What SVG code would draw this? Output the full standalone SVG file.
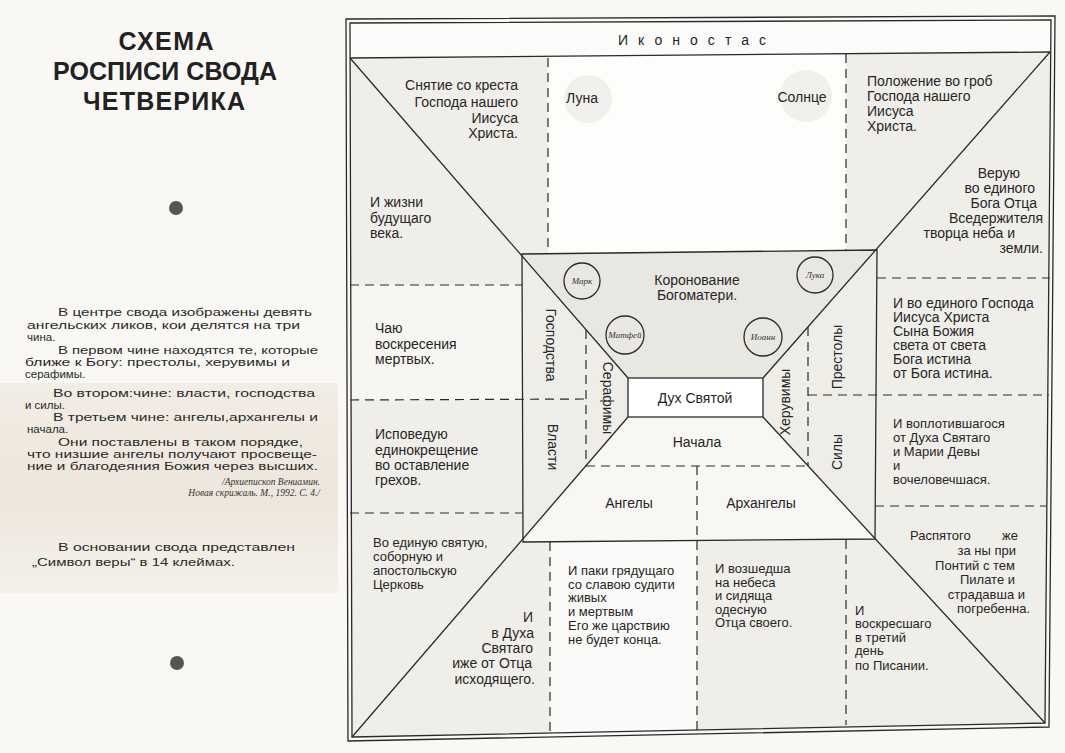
<svg xmlns="http://www.w3.org/2000/svg" width="1065" height="753" viewBox="0 0 1065 753">
<style>
 .t{font-family:"Liberation Sans",Arial,sans-serif;font-size:14px;fill:#262626}
 .s{font-size:13px}
 .p{font-family:"Liberation Sans",Arial,sans-serif;font-size:11.5px;fill:#2a2a2a}
 .ttl{font-family:"Liberation Sans",Arial,sans-serif;font-size:25px;font-weight:bold;fill:#222;text-anchor:middle}
 .h{font-family:"Liberation Serif","Times New Roman",serif;font-style:italic;font-size:9px;fill:#333;text-anchor:middle}
 .q{font-family:"Liberation Serif","Times New Roman",serif;font-style:italic;font-size:9.5px;fill:#333;text-anchor:end}
 .e{text-anchor:end}
 .m{text-anchor:middle}
 .ln{stroke:#2a2a2a;stroke-width:1.3;fill:none}
 .ds{stroke:#2a2a2a;stroke-width:1.2;fill:none;stroke-dasharray:9 6}
 .c{fill:none;stroke:#2a2a2a;stroke-width:1.3}
</style>
<defs>
 <linearGradient id="band" x1="0" y1="0" x2="0" y2="1">
  <stop offset="0" stop-color="#f2ede5"/>
  <stop offset="0.5" stop-color="#ede6dc"/>
  <stop offset="1" stop-color="#f4f0ea"/>
 </linearGradient>
</defs>
<rect x="0" y="0" width="1065" height="753" fill="#f9f8f5"/>
<rect x="0" y="383" width="338" height="210" fill="url(#band)"/>

<g id="title">
 <text class="ttl" x="166" y="50" textLength="95">СХЕМА</text>
 <text class="ttl" x="165" y="80" textLength="224">РОСПИСИ СВОДА</text>
 <text class="ttl" x="164" y="110" textLength="162">ЧЕТВЕРИКА</text>
</g>
<g id="dots">
 <circle cx="176" cy="208" r="7" fill="#555"/>
 <circle cx="177" cy="663" r="7" fill="#555"/>
</g>
<g id="description">
 <text class="p" x="58" y="316" textLength="254" lengthAdjust="spacingAndGlyphs">В центре свода изображены девять</text>
 <text class="p" x="27" y="329" textLength="273" lengthAdjust="spacingAndGlyphs">ангельских ликов, кои делятся на три</text>
 <text class="p" x="27" y="341">чина.</text>
 <text class="p" x="58" y="354" textLength="260" lengthAdjust="spacingAndGlyphs">В первом чине находятся те, которые</text>
 <text class="p" x="25" y="366" textLength="265" lengthAdjust="spacingAndGlyphs">ближе к Богу: престолы, херувимы и</text>
 <text class="p" x="25" y="378">серафимы.</text>
 <text class="p" x="53" y="397" textLength="262" lengthAdjust="spacingAndGlyphs">Во втором:чине: власти, господства</text>
 <text class="p" x="25" y="409">и силы.</text>
 <text class="p" x="53" y="421" textLength="265" lengthAdjust="spacingAndGlyphs">В третьем чине: ангелы,архангелы и</text>
 <text class="p" x="27" y="433">начала.</text>
 <text class="p" x="58" y="446" textLength="245" lengthAdjust="spacingAndGlyphs">Они поставлены в таком порядке,</text>
 <text class="p" x="27" y="458" textLength="290" lengthAdjust="spacingAndGlyphs">что низшие ангелы получают просвеще-</text>
 <text class="p" x="27" y="470" textLength="291" lengthAdjust="spacingAndGlyphs">ние и благодеяния Божия через высших.</text>
 <text class="q" x="320" y="485">/Архиепископ Вениамин.</text>
 <text class="q" x="320" y="496">Новая скрижаль. М., 1992. С. 4./</text>
 <text class="p" x="58" y="551" textLength="237" lengthAdjust="spacingAndGlyphs">В основании свода представлен</text>
 <text class="p" x="32" y="566" textLength="203" lengthAdjust="spacingAndGlyphs">„Символ веры“ в 14 клеймах.</text>
</g>

<g id="fills">
 <polygon points="350,23 1051,20 1045,723 352,737" fill="#f0eee9"/>
 <polygon points="350,23 1051,20 1050,52 350,58" fill="#fbfbf9"/>
 <polygon points="548,57 846,53 846,251 548,254" fill="#fdfdfc"/>
 <polygon points="522,254 877,250 763,378 628,378" fill="#e9e7e2"/>
 <polygon points="522,254 628,378 628,417 523,542" fill="#efede8"/>
 <polygon points="877,250 875,539 763,417 763,378" fill="#efede8"/>
 <polygon points="628,417 763,417 875,539 523,542" fill="#f8f7f4"/>
 <polygon points="350,285 522,285 522,400 350,400" fill="#f7f6f2"/>
 <polygon points="550,542 697,541 697,732 550,736" fill="#fafaf8"/>
 <rect x="628" y="378" width="135" height="39" fill="#ffffff"/>
</g>

<g id="connectors">
 <polygon class="ln" points="346,19 1055,16 1049,727 348,741"/>
 <polygon class="ln" points="350,23 1051,20 1045,723 352,737"/>
 <line class="ln" x1="350" y1="58" x2="1050" y2="52"/>
 <polygon class="ln" points="522,254 877,250 875,539 523,542"/>
 <rect class="ln" x="628" y="378" width="135" height="39"/>
 <line class="ln" x1="350" y1="58" x2="628" y2="378"/>
 <line class="ln" x1="1050" y1="52" x2="763" y2="378"/>
 <line class="ln" x1="352" y1="737" x2="628" y2="417"/>
 <line class="ln" x1="1045" y1="723" x2="763" y2="417"/>
 <line class="ds" x1="548" y1="58" x2="548" y2="254"/>
 <line class="ds" x1="846" y1="54" x2="846" y2="251"/>
 <line class="ds" x1="350" y1="285" x2="522" y2="285"/>
 <line class="ds" x1="350" y1="400" x2="586" y2="399"/>
 <line class="ds" x1="350" y1="513" x2="522" y2="513"/>
 <line class="ds" x1="877" y1="278" x2="1050" y2="278"/>
 <line class="ds" x1="808" y1="395" x2="1049" y2="395"/>
 <line class="ds" x1="875" y1="506" x2="1046" y2="506"/>
 <line class="ds" x1="586" y1="330" x2="586" y2="466"/>
 <line class="ds" x1="808" y1="327" x2="808" y2="466"/>
 <line class="ds" x1="586" y1="466" x2="808" y2="466"/>
 <line class="ds" x1="697" y1="466" x2="697" y2="732"/>
 <line class="ds" x1="550" y1="542" x2="550" y2="736"/>
 <line class="ds" x1="846" y1="540" x2="846" y2="725"/>
</g>

<g id="iconostas">
 <text class="t" x="618" y="45" textLength="148" lengthAdjust="spacing">Иконостас</text>
</g>

<g id="sky">
 <circle cx="588" cy="99" r="24" fill="#f2f0ec"/>
 <circle cx="806" cy="96" r="26" fill="#f2f0ec"/>
 <text class="t m" x="582" y="103">Луна</text>
 <text class="t m" x="802" y="102">Солнце</text>
</g>

<g id="cell-top-left">
 <text class="t e" x="518" y="90">Снятие со креста</text>
 <text class="t e" x="518" y="107">Господа нашего</text>
 <text class="t e" x="518" y="123">Иисуса</text>
 <text class="t e" x="518" y="138">Христа.</text>
 <text class="t" x="370" y="207">И жизни</text>
 <text class="t" x="370" y="223">будущаго</text>
 <text class="t" x="370" y="238">века.</text>
</g>

<g id="cell-top-right">
 <text class="t" x="867" y="86">Положение во гроб</text>
 <text class="t" x="867" y="101">Господа нашего</text>
 <text class="t" x="867" y="116">Иисуса</text>
 <text class="t" x="867" y="131">Христа.</text>
 <text class="t e" x="1020" y="178">Верую</text>
 <text class="t e" x="1035" y="193">во единого</text>
 <text class="t e" x="1037" y="208">Бога  Отца</text>
 <text class="t e" x="1043" y="223">Вседержителя</text>
 <text class="t e" x="1015" y="238">творца  неба  и</text>
 <text class="t e" x="1043" y="253">земли.</text>
</g>

<g id="cell-chayu">
 <text class="t" x="375" y="333">Чаю</text>
 <text class="t" x="375" y="349">воскресения</text>
 <text class="t" x="375" y="364">мертвых.</text>
</g>

<g id="cell-ispoveduyu">
 <text class="t" x="375" y="439">Исповедую</text>
 <text class="t" x="375" y="455">единокрещение</text>
 <text class="t" x="375" y="470">во оставление</text>
 <text class="t" x="375" y="485">грехов.</text>
</g>

<g id="cell-bottom-left">
 <text class="t s" x="373" y="547">Во единую святую,</text>
 <text class="t s" x="373" y="561">соборную и</text>
 <text class="t s" x="373" y="575">апостольскую</text>
 <text class="t s" x="373" y="589">Церковь</text>
 <text class="t e" x="533" y="622">И</text>
 <text class="t e" x="534" y="638">в Духа</text>
 <text class="t e" x="533" y="653">Святаго</text>
 <text class="t e" x="532" y="668">иже от Отца</text>
 <text class="t e" x="535" y="684">исходящего.</text>
</g>

<g id="cell-paki">
 <text class="t s" x="568" y="575">И паки грядущаго</text>
 <text class="t s" x="568" y="589">со славою судити</text>
 <text class="t s" x="568" y="602">живых</text>
 <text class="t s" x="568" y="616">и мертвым</text>
 <text class="t s" x="568" y="630">Его же царствию</text>
 <text class="t s" x="568" y="644">не будет конца.</text>
</g>

<g id="cell-vozshedsha">
 <text class="t s" x="715" y="573">И возшедша</text>
 <text class="t s" x="715" y="587">на небеса</text>
 <text class="t s" x="715" y="600">и сидяща</text>
 <text class="t s" x="715" y="614">одесную</text>
 <text class="t s" x="715" y="627">Отца  своего.</text>
</g>

<g id="cell-bottom-right">
 <text class="t s" y="540"><tspan x="910">Распятого</tspan><tspan x="1002">же</tspan></text>
 <text class="t s e" x="1016" y="555">за  ны  при</text>
 <text class="t s e" x="1015" y="570">Понтий с тем</text>
 <text class="t s e" x="1015" y="584">Пилате и</text>
 <text class="t s e" x="1025" y="599">страдавша и</text>
 <text class="t s e" x="1030" y="613">погребенна.</text>
 <text class="t s" x="855" y="615">И</text>
 <text class="t s" x="855" y="628">воскресшаго</text>
 <text class="t s" x="855" y="642">в третий</text>
 <text class="t s" x="855" y="655">день</text>
 <text class="t s" x="855" y="670">по Писании.</text>
</g>

<g id="cell-vo-edinogo-gospoda">
 <text class="t" x="893" y="308">И во единого Господа</text>
 <text class="t" x="893" y="322">Иисуса Христа</text>
 <text class="t" x="893" y="336">Сына Божия</text>
 <text class="t" x="893" y="350">света от света</text>
 <text class="t" x="893" y="364">Бога истина</text>
 <text class="t" x="893" y="378">от Бога истина.</text>
</g>

<g id="cell-voplotivshagosya">
 <text class="t s" x="893" y="428">И воплотившагося</text>
 <text class="t s" x="893" y="442">от Духа Святаго</text>
 <text class="t s" x="893" y="456">и Марии Девы</text>
 <text class="t s" x="893" y="470">и</text>
 <text class="t s" x="893" y="484">вочеловечшася.</text>
</g>

<g id="koronovanie">
 <text class="t m" x="697" y="285">Коронование</text>
 <text class="t m" x="697" y="300">Богоматери.</text>
</g>
<g id="evangelist-mark"><circle class="c" cx="582" cy="281" r="18"/><text class="h" x="582" y="284">Марк</text></g>
<g id="evangelist-matfey"><circle class="c" cx="625" cy="335" r="19"/><text class="h" x="625" y="338">Матфей</text></g>
<g id="evangelist-ioann"><circle class="c" cx="763" cy="337" r="19"/><text class="h" x="763" y="340">Иоанн</text></g>
<g id="evangelist-luka"><circle class="c" cx="815" cy="275" r="18"/><text class="h" x="815" y="278">Лука</text></g>

<g id="duh-svyatoy"><text class="t m" x="695" y="403">Дух  Святой</text></g>
<g id="nachala"><text class="t m" x="697" y="447">Начала</text></g>
<g id="angely"><text class="t m" x="629" y="508">Ангелы</text></g>
<g id="arhangely"><text class="t m" x="761" y="508">Архангелы</text></g>
<g id="gospodstva"><text class="t m" transform="translate(551,345) rotate(90)" dy="0.35em">Господства</text></g>
<g id="vlasti"><text class="t m" transform="translate(553,447) rotate(90)" dy="0.35em">Власти</text></g>
<g id="serafimy"><text class="t m" transform="translate(608,398) rotate(90)" dy="0.35em">Серафимы</text></g>
<g id="heruvimy"><text class="t m" transform="translate(785,402) rotate(-90)" dy="0.35em">Херувимы</text></g>
<g id="prestoly"><text class="t m" transform="translate(837,357) rotate(-90)" dy="0.35em">Престолы</text></g>
<g id="sily"><text class="t m" transform="translate(837,452) rotate(-90)" dy="0.35em">Силы</text></g>
</svg>
